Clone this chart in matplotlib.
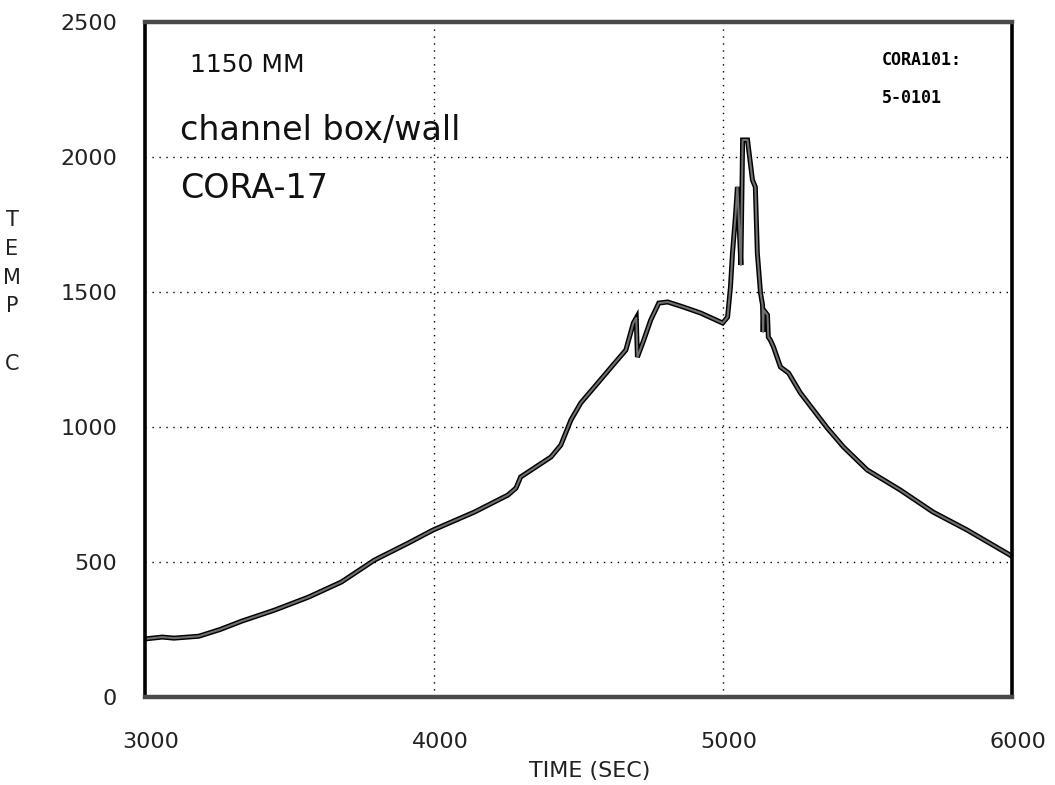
import matplotlib
matplotlib.use("Agg")
import matplotlib.pyplot as plt
from matplotlib.transforms import ScaledTranslation

# thermocouple reading, channel box/wall at 1150 mm
time_sec = [3000, 3060, 3100, 3186, 3260, 3335, 3449, 3566, 3680, 3794,
            3911, 3998, 4140, 4256, 4284, 4300, 4405, 4439, 4474, 4508,
            4567, 4620, 4664, 4690, 4700, 4704, 4726, 4750, 4778, 4809,
            4864, 4923, 4999, 5016, 5026, 5033, 5043, 5050, 5058, 5062,
            5066, 5068, 5085, 5102, 5112, 5119, 5130, 5137, 5139, 5141,
            5154, 5157, 5164, 5175, 5199, 5227, 5268, 5361, 5417, 5499,
            5613, 5727, 5844, 5993, 6000]
temp_c = [215, 222, 218, 225, 250, 281, 322, 370, 426, 507,
          570, 619, 685, 748, 774, 815, 889, 933, 1026, 1089,
          1163, 1230, 1285, 1385, 1404, 1259, 1322, 1396, 1459, 1463,
          1444, 1422, 1385, 1407, 1519, 1644, 1778, 1889, 1700, 1600,
          1900, 2063, 2063, 1915, 1889, 1644, 1496, 1452, 1352, 1433,
          1415, 1333, 1322, 1296, 1222, 1200, 1126, 996, 926, 841,
          767, 685, 619, 526, 520]

xticks = [3000, 4000, 5000, 6000]
yticks = [0, 500, 1000, 1500, 2000, 2500]

fig = plt.figure(figsize=(10.55, 7.85), dpi=100)
ax = fig.add_axes([0.1374, 0.1121, 0.8218, 0.8599])

ax.plot(time_sec, temp_c, color="black", lw=3.6, solid_joinstyle="miter")
ax.plot(time_sec, temp_c, color="#707070", lw=1.5)

ax.set_xlim(3000, 6000)
ax.set_ylim(0, 2500)
ax.set_xticks(xticks)
ax.set_yticks(yticks)
ax.tick_params(length=0, labelsize=16, colors="#222222")
ax.tick_params(axis="x", pad=25)
ax.tick_params(axis="y", pad=20)
shift = ScaledTranslation(0.06, 0, fig.dpi_scale_trans)
for lab in ax.get_xticklabels():
    lab.set_transform(lab.get_transform() + shift)

# dotted grid only at the inner lines
for xv in [4000, 5000]:
    ax.axvline(xv, color="black", lw=1.0, ls=(0, (1, 4)), zorder=0)
for yv in [500, 1000, 1500, 2000]:
    ax.axhline(yv, color="black", lw=1.0, ls=(0, (1, 4)), zorder=0)

for side in ["left", "right"]:
    ax.spines[side].set_linewidth(2.6)
    ax.spines[side].set_color("black")
for side in ["top", "bottom"]:
    ax.spines[side].set_linewidth(3.2)
    ax.spines[side].set_color("#4a4a4a")

ax.text(0.052, 0.926, "1150 MM", transform=ax.transAxes, fontsize=18,
        va="baseline", color="#111111")
ax.text(0.040, 0.825, "channel box/wall", transform=ax.transAxes,
        fontsize=24, va="baseline", color="#111111")
ax.text(0.040, 0.739, "CORA-17", transform=ax.transAxes, fontsize=24,
        va="baseline", color="#111111")
ax.text(0.850, 0.936, "CORA101:", transform=ax.transAxes, fontsize=12,
        family="DejaVu Sans Mono", fontweight="bold", va="baseline")
ax.text(0.850, 0.880, "5-0101", transform=ax.transAxes, fontsize=12,
        family="DejaVu Sans Mono", fontweight="bold", va="baseline")

fig.text(590 / 1055, 1 - 771 / 785, "TIME (SEC)", fontsize=16,
         ha="center", va="center", color="#222222")
fig.text(12 / 1055, 1 - 210 / 785, "T\nE\nM\nP\n\nC", fontsize=15,
         ha="center", va="top", linespacing=1.55, color="#222222")

fig.savefig("out.png", dpi=100)
